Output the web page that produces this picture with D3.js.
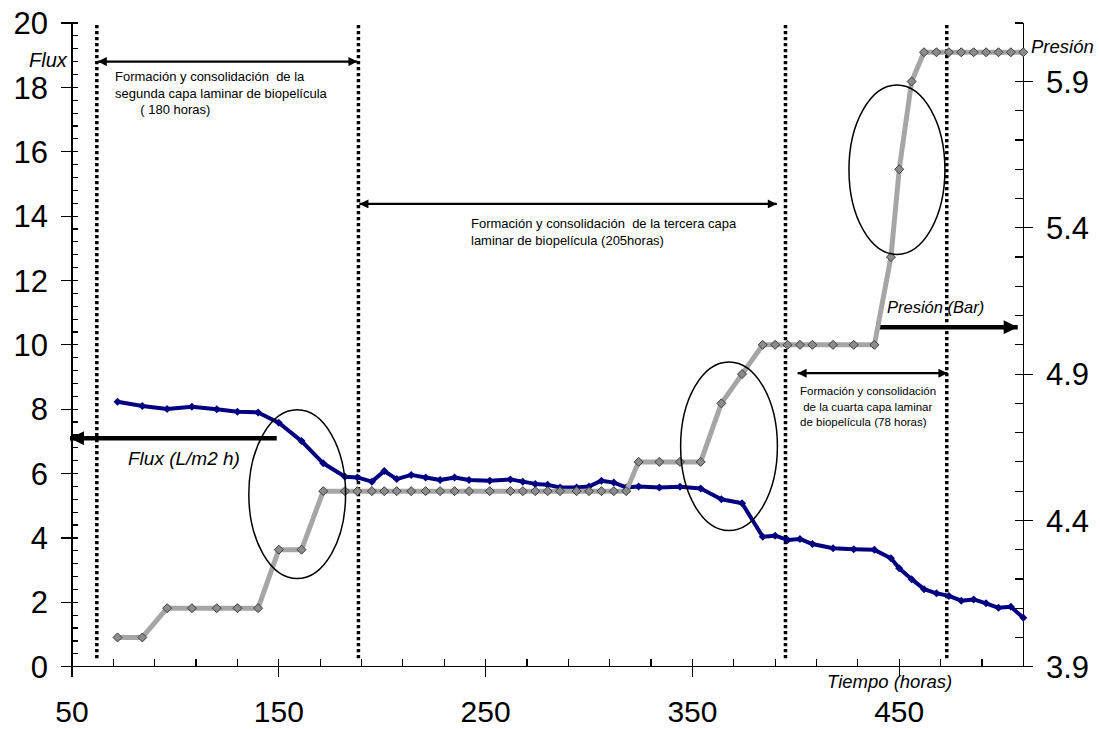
<!DOCTYPE html>
<html>
<head>
<meta charset="utf-8">
<script src="https://cdn.jsdelivr.net/npm/d3@7/dist/d3.min.js"></script>
<style>
  html, body { margin: 0; padding: 0; background: #fff; }
  svg { display: block; }
  text { font-family: "Liberation Sans", Arial, sans-serif; fill: #000; }
</style>
</head>
<body>
<svg id="chart" width="1100" height="729"></svg>
<script>
// Time of each sample (hours)
const times = [72, 84, 96, 108, 120, 130, 140,
  150, 161, 171.5, 182, 188, 195, 201, 207, 214, 221,
  228, 235, 242, 252, 262, 268, 274, 280, 286, 294,
  300, 306, 312, 318, 324, 334, 344, 354, 364, 374,
  384, 390, 396, 402, 408, 418, 428, 438, 446, 450,
  456, 462, 468, 474, 480, 486, 492, 498, 504, 510];

// Permeate flux (L/m2 h), left axis
const flux = [8.23, 8.10, 8.01, 8.08, 8.00, 7.92, 7.90,
  7.58, 7.01, 6.32, 5.90, 5.88, 5.75, 6.08, 5.83, 5.96, 5.88,
  5.80, 5.88, 5.80, 5.78, 5.82, 5.75, 5.68, 5.65, 5.57, 5.57,
  5.60, 5.78, 5.72, 5.57, 5.60, 5.57, 5.59, 5.54, 5.20, 5.08,
  4.04, 4.07, 3.94, 3.97, 3.81, 3.68, 3.65, 3.63, 3.37, 3.06,
  2.72, 2.41, 2.28, 2.20, 2.05, 2.09, 1.97, 1.83, 1.86, 1.52];

// Transmembrane pressure (bar), right axis
const pressure = [4.0, 4.0, 4.1, 4.1, 4.1, 4.1, 4.1,
  4.3, 4.3, 4.5, 4.5, 4.5, 4.5, 4.5, 4.5, 4.5, 4.5,
  4.5, 4.5, 4.5, 4.5, 4.5, 4.5, 4.5, 4.5, 4.5, 4.5,
  4.5, 4.5, 4.5, 4.5, 4.6, 4.6, 4.6, 4.6, 4.8, 4.9,
  5.0, 5.0, 5.0, 5.0, 5.0, 5.0, 5.0, 5.0, 5.3, 5.6,
  5.9, 6.0, 6.0, 6.0, 6.0, 6.0, 6.0, 6.0, 6.0, 6.0];

// Axis tick labels
const xTickLabels = [50, 150, 250, 350, 450];
const fluxTickLabels = [0, 2, 4, 6, 8, 10, 12, 14, 16, 18, 20];
const pressureTickLabels = ["3.9", "4.4", "4.9", "5.4", "5.9"];

// Stage boundaries (hours)
const stageBounds = [62, 188.5, 395, 473];

// Stage annotations: span in hours, flux level of the arrow, text lines
const stageSpans = [
  { from: 62, to: 188.5, level: 18.8,
    lines: ["Formación y consolidación  de la", "segunda capa laminar de biopelícula", "       ( 180 horas)"] },
  { from: 188.5, to: 391.3, level: 14.38,
    lines: ["Formación y consolidación  de la tercera capa", "laminar de biopelícula (205horas)"] },
  { from: 400.4, to: 473.8, level: 9.12,
    lines: ["Formación y consolidación", " de la cuarta capa laminar", "de biopelícula (78 horas)"] }
];

// Highlighted transitions (centre in hours / flux units, radii in same units)
const transitions = [
  { t: 158.9, v: 5.36, rt: 23.4, rv: 2.62 },
  { t: 367.7, v: 6.85, rt: 23.4, rv: 2.62 },
  { t: 448.9, v: 15.44, rt: 23.2, rv: 2.63 }
];

const svg = d3.select("#chart");
const L = 72, R = 1023.3, T = 23, B = 666.7;

const x = d3.scaleLinear().domain([50, 510]).range([L, R]);
const yF = d3.scaleLinear().domain([0, 20]).range([B, T]);
const yP = d3.scaleLinear().domain([3.9, 6.1]).range([B, T]);

// ---- axes ----
const axisG = svg.append("g").attr("stroke", "#000").attr("stroke-width", 1.2).attr("shape-rendering", "crispEdges");

// left axis
axisG.append("line").attr("x1", L).attr("x2", L).attr("y1", T).attr("y2", B);
d3.range(0, 20.001, 0.4).forEach(v => {
  const major = Math.abs(v / 2 - Math.round(v / 2)) < 1e-6;
  axisG.append("line").attr("x1", major ? L - 11 : L).attr("x2", L + 6)
    .attr("y1", yF(v)).attr("y2", yF(v));
});
// right axis
axisG.append("line").attr("x1", R).attr("x2", R).attr("y1", T).attr("y2", B);
d3.range(3.9, 6.1001, 0.1).forEach(v => {
  const k = Math.round((v - 3.9) * 10);
  const major = k % 5 === 0;
  axisG.append("line").attr("x1", R - 8).attr("x2", major ? R + 10 : R)
    .attr("y1", yP(v)).attr("y2", yP(v));
});
// bottom axis
axisG.append("line").attr("x1", L - 11).attr("x2", R + 10).attr("y1", B).attr("y2", B);
d3.range(50, 510.001, 20).forEach(v => {
  const major = (v - 50) % 100 === 0;
  axisG.append("line").attr("x1", x(v)).attr("x2", x(v))
    .attr("y1", B - 8).attr("y2", major ? B + 10 : B);
});

// tick labels
svg.append("g").selectAll("text").data(fluxTickLabels).join("text")
  .attr("x", 48).attr("y", d => yF(d)).attr("dy", "0.36em")
  .attr("text-anchor", "end").attr("font-size", 31).attr("fill", "#111").text(d => d);
svg.append("g").selectAll("text").data(pressureTickLabels).join("text")
  .attr("x", 1046).attr("y", d => yP(+d)).attr("dy", "0.36em")
  .attr("text-anchor", "start").attr("font-size", 31).attr("fill", "#111").text(d => d);
svg.append("g").selectAll("text").data(xTickLabels).join("text")
  .attr("x", d => x(d)).attr("y", 722)
  .attr("text-anchor", "middle").attr("font-size", 30).attr("fill", "#111").text(d => d);

// axis titles
svg.append("text").attr("x", 29).attr("y", 67).attr("font-style", "italic").attr("font-size", 20).attr("fill", "#222").text("Flux");
svg.append("text").attr("x", 1031).attr("y", 53).attr("font-style", "italic").attr("font-size", 18.5).attr("fill", "#222").text("Presión");
svg.append("text").attr("x", 827).attr("y", 688).attr("font-style", "italic").attr("font-size", 18.5).attr("fill", "#222").text("Tiempo (horas)");

// ---- stage boundaries ----
svg.append("g").selectAll("line").data(stageBounds).join("line")
  .attr("x1", d => x(d)).attr("x2", d => x(d))
  .attr("y1", 25).attr("y2", 661)
  .attr("stroke", "#000").attr("stroke-width", 3.5).attr("stroke-dasharray", "3.2,2.8");

// arrowhead markers
const defs = svg.append("defs");
defs.append("marker").attr("id", "headS").attr("viewBox", "0 0 10 10")
  .attr("refX", 10).attr("refY", 5).attr("markerWidth", 11).attr("markerHeight", 9)
  .attr("markerUnits", "userSpaceOnUse").attr("orient", "auto-start-reverse")
  .append("path").attr("d", "M0,0 L10,5 L0,10 Z").attr("fill", "#000");
defs.append("marker").attr("id", "headL").attr("viewBox", "0 0 10 10")
  .attr("refX", 10).attr("refY", 5).attr("markerWidth", 15).attr("markerHeight", 14)
  .attr("markerUnits", "userSpaceOnUse").attr("orient", "auto")
  .append("path").attr("d", "M0,0 L10,5 L0,10 Z").attr("fill", "#000");

// stage arrows and texts
const stageG = svg.append("g");
stageSpans.forEach((s, i) => {
  stageG.append("line")
    .attr("x1", x(s.from) + 1).attr("x2", x(s.to) - 1)
    .attr("y1", yF(s.level)).attr("y2", yF(s.level))
    .attr("stroke", "#000").attr("stroke-width", 2.4)
    .attr("marker-start", "url(#headS)").attr("marker-end", "url(#headS)");
});
const txt = (x0, y0, lines, size, lh) => {
  const t = svg.append("text").attr("font-size", size).attr("fill", "#222").attr("xml:space", "preserve");
  lines.forEach((ln, k) => t.append("tspan").attr("x", x0).attr("y", y0 + k * lh).text(ln));
};
txt(115, 81, stageSpans[0].lines, 13, 16.5);
txt(471, 228, stageSpans[1].lines, 13, 17);
txt(800, 395, stageSpans[2].lines, 11.5, 15.5);

// series direction arrows
svg.append("line").attr("x1", x(149)).attr("x2", x(49)).attr("y1", yF(7.1)).attr("y2", yF(7.1))
  .attr("stroke", "#000").attr("stroke-width", 4.5).attr("marker-end", "url(#headL)");
svg.append("text").attr("x", 128).attr("y", 465).attr("font-style", "italic").attr("font-size", 19)
  .attr("fill", "#222").text("Flux (L/m2 h)");
svg.append("line").attr("x1", x(438.8)).attr("x2", x(507.3)).attr("y1", yF(10.55)).attr("y2", yF(10.55))
  .attr("stroke", "#000").attr("stroke-width", 4.5).attr("marker-end", "url(#headL)");
svg.append("text").attr("x", 887).attr("y", 313).attr("font-style", "italic").attr("font-size", 16.5)
  .attr("fill", "#222").text("Presión (Bar)");

// ---- series ----
const fluxPts = times.map((t, i) => [t, flux[i]]);
const presPts = times.map((t, i) => [t, pressure[i]]);

svg.append("path").datum(fluxPts)
  .attr("d", d3.line().x(d => x(d[0])).y(d => yF(d[1])))
  .attr("fill", "none").attr("stroke", "#000080").attr("stroke-width", 4).attr("stroke-linejoin", "round");
const diamond = (s) => `M0,${-s} L${s},0 L0,${s} L${-s},0 Z`;
svg.append("g").selectAll("path").data(fluxPts).join("path")
  .attr("transform", d => `translate(${x(d[0])},${yF(d[1])})`)
  .attr("d", diamond(4)).attr("fill", "#000080");

svg.append("path").datum(presPts)
  .attr("d", d3.line().x(d => x(d[0])).y(d => yP(d[1])))
  .attr("fill", "none").attr("stroke", "#a6a6a6").attr("stroke-width", 5).attr("stroke-linejoin", "round");
svg.append("g").selectAll("path").data(presPts).join("path")
  .attr("transform", d => `translate(${x(d[0])},${yP(d[1])})`)
  .attr("d", diamond(4.5)).attr("fill", "#8c8c8c").attr("stroke", "#3c3c3c").attr("stroke-width", 1);

// ---- transition ellipses ----
svg.append("g").selectAll("ellipse").data(transitions).join("ellipse")
  .attr("cx", d => x(d.t)).attr("cy", d => yF(d.v))
  .attr("rx", d => x(d.t + d.rt) - x(d.t)).attr("ry", d => yF(d.v - d.rv) - yF(d.v))
  .attr("fill", "none").attr("stroke", "#000").attr("stroke-width", 1.5);
</script>
</body>
</html>
